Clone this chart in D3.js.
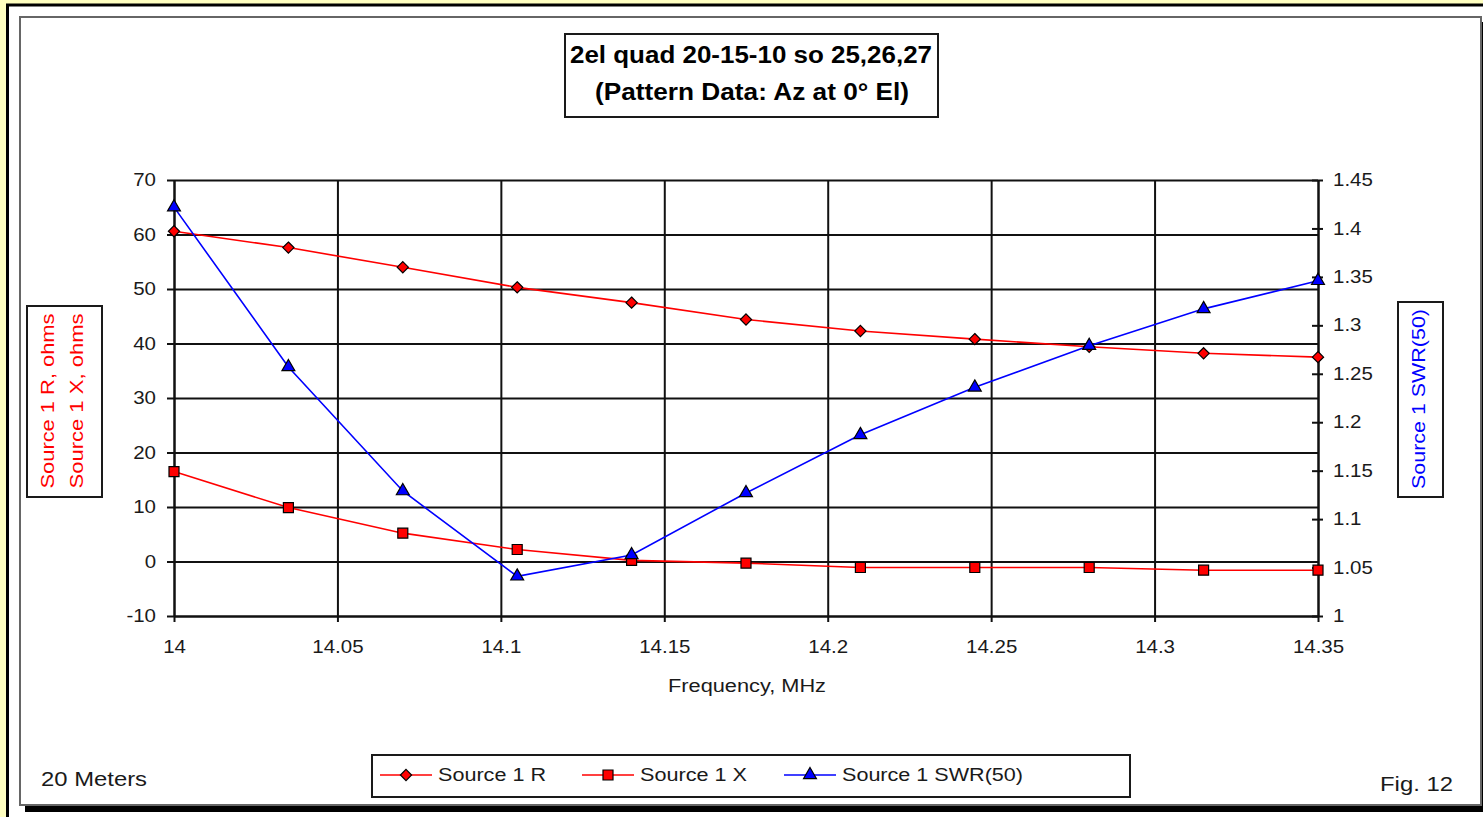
<!DOCTYPE html>
<html>
<head>
<meta charset="utf-8">
<script src="https://cdn.jsdelivr.net/npm/d3@7"></script>
<style>
  html, body { margin: 0; padding: 0; background: #ffffc0; overflow: hidden; }
  svg { display: block; }
  text { font-family: "Liberation Sans", Arial, sans-serif; fill: #1a1a1a; }
</style>
</head>
<body>
<svg id="chart" width="1483" height="817"></svg>
<script>
// ---- data ----
const freqMHz   = [14, 14.035, 14.07, 14.105, 14.14, 14.175, 14.21, 14.245, 14.28, 14.315, 14.35];
const source1R  = [60.6, 57.6, 54.0, 50.3, 47.5, 44.4, 42.3, 40.8, 39.4, 38.2, 37.5];
const source1X  = [16.5, 9.9, 5.2, 2.2, 0.2, -0.3, -1.1, -1.1, -1.1, -1.6, -1.6];
const source1SWR = [1.422, 1.257, 1.129, 1.041, 1.063, 1.127, 1.187, 1.236, 1.279, 1.317, 1.346];

const xTicks     = [14, 14.05, 14.1, 14.15, 14.2, 14.25, 14.3, 14.35];
const leftTicks  = [-10, 0, 10, 20, 30, 40, 50, 60, 70];
const rightTicks = [1, 1.05, 1.1, 1.15, 1.2, 1.25, 1.3, 1.35, 1.4, 1.45];

const chartTitle   = ["2el quad 20-15-10 so 25,26,27", "(Pattern Data: Az at 0\u00b0 El)"];
const xTitle       = "Frequency, MHz";
const leftTitles   = ["Source 1 R,  ohms", "Source 1 X,  ohms"];
const rightTitle   = "Source 1 SWR(50)";
const seriesNames  = ["Source 1 R", "Source 1 X", "Source 1 SWR(50)"];
const cornerLeft   = "20 Meters";
const cornerRight  = "Fig. 12";

// ---- layout ----
const svg = d3.select("#chart");
const plot = { left: 174, right: 1318, top: 180, bottom: 616 };
const RED = "#ff0000", BLUE = "#0000ff", INK = "#1a1a1a";

const x  = d3.scaleLinear().domain([14, 14.35]).range([plot.left, plot.right]);
const yL = d3.scaleLinear().domain([-10, 70]).range([plot.bottom, plot.top]);
const yR = d3.scaleLinear().domain([1, 1.45]).range([plot.bottom, plot.top]);

// stretch text horizontally (wide bitmap-like face)
function stretch(sel, k) {
  sel.each(function () {
    const w = this.getComputedTextLength();
    d3.select(this).attr("textLength", w * k).attr("lengthAdjust", "spacingAndGlyphs");
  });
}
function fit(sel, w) {
  sel.attr("textLength", w).attr("lengthAdjust", "spacingAndGlyphs");
}

// ---- frames ----
svg.append("rect").attr("x", 7.5).attr("y", 5).attr("width", 1600).attr("height", 1000)
  .attr("fill", "#ffffff").attr("stroke", "#000").attr("stroke-width", 3);
// drop shadow of the inner panel
svg.append("rect").attr("x", 25).attr("y", 22).attr("width", 1600).attr("height", 790)
  .attr("fill", "#000");
svg.append("rect").attr("x", 20).attr("y", 17).attr("width", 1461).attr("height", 788)
  .attr("fill", "#ffffff").attr("stroke", "#666").attr("stroke-width", 2);

// ---- title box ----
svg.append("rect").attr("x", 565).attr("y", 34).attr("width", 373).attr("height", 83)
  .attr("fill", "#fff").attr("stroke", INK).attr("stroke-width", 2);
svg.append("text").attr("x", 751).attr("y", 63).attr("text-anchor", "middle")
  .style("font-size", "23px").style("font-weight", "bold").style("fill", "#000")
  .text(chartTitle[0]).call(fit, 362);
svg.append("text").attr("x", 752).attr("y", 100).attr("text-anchor", "middle")
  .style("font-size", "23px").style("font-weight", "bold").style("fill", "#000")
  .text(chartTitle[1]).call(fit, 314);

// ---- gridlines ----
const grid = svg.append("g");
grid.append("g").attr("transform", `translate(${plot.left},0)`)
  .call(d3.axisLeft(yL).tickValues(leftTicks).tickSize(-(plot.right - plot.left)).tickFormat(""))
  .call(g => g.select(".domain").remove())
  .call(g => g.selectAll("line").attr("stroke", "#111").attr("stroke-width", 2));
grid.append("g").attr("transform", `translate(0,${plot.bottom})`)
  .call(d3.axisBottom(x).tickValues(xTicks).tickSize(-(plot.bottom - plot.top)).tickFormat(""))
  .call(g => g.select(".domain").remove())
  .call(g => g.selectAll("line").attr("stroke", "#111").attr("stroke-width", 2));

// ---- axes ----
const axL = svg.append("g").attr("transform", `translate(${plot.left},0)`)
  .call(d3.axisLeft(yL).tickValues(leftTicks).tickSizeInner(7).tickSizeOuter(0).tickPadding(11)
        .tickFormat(d => String(d)));
const axR = svg.append("g").attr("transform", `translate(${plot.right},0)`)
  .call(d3.axisRight(yR).tickValues(rightTicks).tickSizeInner(5).tickSizeOuter(0).tickPadding(10)
        .tickFormat(d => String(d)));
axR.selectAll(".tick line").attr("x1", -6);
const axB = svg.append("g").attr("transform", `translate(0,${plot.bottom})`)
  .call(d3.axisBottom(x).tickValues(xTicks).tickSizeInner(6).tickSizeOuter(0).tickPadding(19)
        .tickFormat(d => String(d)));

[axL, axR, axB].forEach(a => {
  a.select(".domain").attr("stroke", "#111").attr("stroke-width", 2);
  a.selectAll(".tick line").attr("stroke", "#111").attr("stroke-width", 2);
  a.selectAll(".tick text").style("font-size", "17.5px").style("fill", INK)
    .attr("font-family", null).call(stretch, 1.17);
});

// axis titles
svg.append("text").attr("x", 747).attr("y", 692).attr("text-anchor", "middle")
  .style("font-size", "18px").text(xTitle).call(fit, 158);

svg.append("rect").attr("x", 27).attr("y", 306).attr("width", 75).attr("height", 191)
  .attr("fill", "#fff").attr("stroke", INK).attr("stroke-width", 2);
[48, 77].forEach((cx, i) => {
  svg.append("text").attr("transform", `translate(${cx},401) rotate(-90)`)
    .attr("text-anchor", "middle").attr("dy", "0.36em")
    .style("font-size", "18px").style("fill", RED)
    .text(leftTitles[i]).call(fit, 175);
});

svg.append("rect").attr("x", 1398).attr("y", 302).attr("width", 45).attr("height", 195)
  .attr("fill", "#fff").attr("stroke", INK).attr("stroke-width", 2);
svg.append("text").attr("transform", `translate(1419,399) rotate(-90)`)
  .attr("text-anchor", "middle").attr("dy", "0.36em")
  .style("font-size", "18px").style("fill", BLUE)
  .text(rightTitle).call(fit, 180);

// ---- series ----
const series = [
  { name: seriesNames[0], values: source1R,   y: yL, color: RED,  symbol: d3.symbolDiamond2, size: 80 },
  { name: seriesNames[1], values: source1X,   y: yL, color: RED,  symbol: d3.symbolSquare,   size: 100 },
  { name: seriesNames[2], values: source1SWR, y: yR, color: BLUE, symbol: d3.symbolTriangle, size: 72 }
];

const plotG = svg.append("g");
series.forEach(s => {
  const line = d3.line().x((d, i) => x(freqMHz[i])).y(d => s.y(d));
  plotG.append("path").datum(s.values).attr("d", line)
    .attr("fill", "none").attr("stroke", s.color).attr("stroke-width", 1.6);
});
series.forEach(s => {
  plotG.append("g").selectAll("path").data(s.values).join("path")
    .attr("transform", (d, i) => `translate(${x(freqMHz[i])},${s.y(d)})`)
    .attr("d", d3.symbol().type(s.symbol).size(s.size))
    .attr("fill", s.color).attr("stroke", "#000").attr("stroke-width", 1.2);
});

// ---- legend ----
svg.append("rect").attr("x", 372).attr("y", 755).attr("width", 758).attr("height", 42)
  .attr("fill", "#fff").attr("stroke", INK).attr("stroke-width", 2);
const legendX = [380, 582, 784];
const legendW = [108, 107, 181];
series.forEach((s, i) => {
  const g = svg.append("g").attr("transform", `translate(${legendX[i]},775)`);
  g.append("line").attr("x1", 0).attr("x2", 52).attr("stroke", s.color).attr("stroke-width", 1.6);
  g.append("path").attr("transform", "translate(26,0)")
    .attr("d", d3.symbol().type(s.symbol).size(s.size))
    .attr("fill", s.color).attr("stroke", "#000").attr("stroke-width", 1.2);
  g.append("text").attr("x", 58).attr("y", 6).style("font-size", "18px")
    .text(s.name).call(fit, legendW[i]);
});

// ---- corner notes ----
svg.append("text").attr("x", 41).attr("y", 786).style("font-size", "21px")
  .text(cornerLeft).call(fit, 106);
svg.append("text").attr("x", 1380).attr("y", 791).style("font-size", "21px")
  .text(cornerRight).call(fit, 73);
</script>
</body>
</html>
